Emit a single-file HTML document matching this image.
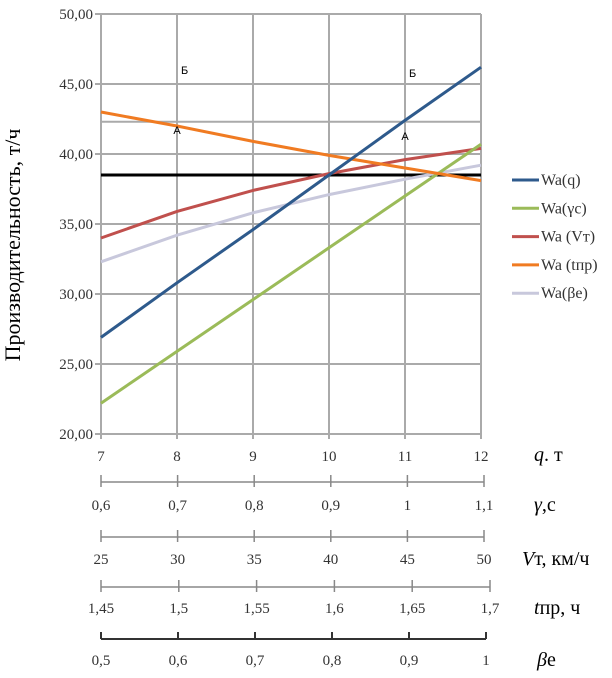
<!DOCTYPE html>
<html><head><meta charset="utf-8"><style>
body{margin:0;background:#fff;}
svg{display:block;font-family:"Liberation Serif",serif;}
</style></head><body>
<svg id="c" width="612" height="678"></svg>
<script>
const xCats=[7,8,9,10,11,12];
const yTicks=[20,25,30,35,40,45,50];
const seriesNames=["Wa(q)","Wa(γc)","Wa (Vт)","Wa (tпр)","Wa(βe)"];
const wq=[26.9,30.8,34.6,38.5,42.4,46.2];
const wgc=[22.2,25.9,29.6,33.3,37.0,40.7];
const wvt=[34.0,35.9,37.4,38.6,39.6,40.4];
const wtpr=[43.0,42.0,40.9,39.9,39.0,38.1];
const wbe=[32.3,34.2,35.8,37.1,38.2,39.2];
const refLevel=38.5;
const extraGrid=42.3;
const gammaTicks=["0,6","0,7","0,8","0,9","1","1,1"];
const vtTicks=["25","30","35","40","45","50"];
const tprTicks=["1,45","1,5","1,55","1,6","1,65","1,7"];
const beTicks=["0,5","0,6","0,7","0,8","0,9","1"];
const colors=["#2e5a8c","#9bbb59","#c0504d","#f07b22","#c8c8dc"];
const NS="http://www.w3.org/2000/svg";
const svg=document.getElementById('c');
const X=v=>101+(v-7)*76;
const Y=v=>14+(50-v)*14;
function mk(t,a,p){const e=document.createElementNS(NS,t);for(const k in a)e.setAttribute(k,a[k]);(p||svg).appendChild(e);return e;}
function txt(x,y,s,a,p){const e=mk('text',Object.assign({x:x,y:y},a),p);e.textContent=s;return e;}
yTicks.forEach(v=>{
 const l=mk('line',{x1:95,x2:481,y1:Y(v),y2:Y(v),stroke:'#aaa','stroke-width':2});
 
 
 const t=txt(93,Y(v)+5,v.toFixed(2).replace('.',','),{'text-anchor':'end','font-size':15,fill:'#333'});
 
 
});
{const l=mk('line',{x1:101,x2:481,y1:Y(extraGrid),y2:Y(extraGrid),stroke:'#aaa','stroke-width':2});

}
xCats.forEach(v=>{
 const l=mk('line',{x1:X(v),x2:X(v),y1:Y(50),y2:Y(20)+5,stroke:'#aaa','stroke-width':2});
 
 
 const t=txt(X(v),461,String(v),{'text-anchor':'middle','font-size':15,fill:'#333'});
 
 
});
{const l=mk('line',{x1:101,x2:481,y1:Y(refLevel),y2:Y(refLevel),stroke:'#000','stroke-width':3});

}
const all=[wq,wgc,wvt,wtpr,wbe];
const order=[4,2,1,3,0];
order.forEach(i=>{
 const p=mk('polyline',{points:all[i].map((v,j)=>X(xCats[j])+','+Y(v)).join(' '),fill:'none',stroke:colors[i],'stroke-width':3});
 
 
});
[[8.1,46,'Б'],[11.1,45.8,'Б'],[8,41.7,'А'],[11,41.3,'А']].forEach(a=>{
 const t=txt(X(a[0]),Y(a[1])+4,a[2],{'font-size':11,'text-anchor':'middle','font-family':'Liberation Sans,sans-serif'});
 
 
});
seriesNames.forEach((n,i)=>{
 const y=180+i*28.3;
 const g=mk('g',{});
 
 
 mk('line',{x1:512,x2:539,y1:y,y2:y,stroke:colors[i],'stroke-width':3},g);
 txt(541,y+5,n,{'font-size':16,fill:'#333'},g);
});
{const t=txt(0,0,'Производительность, т/ч',{transform:'translate(20,245) rotate(-90)','text-anchor':'middle','font-size':22});

}
function title(x,y,it,rest,name){
 const t=mk('text',{x:x,y:y,'font-size':20});
 
 
 const a=mk('tspan',{'font-style':'italic'},t);a.textContent=it;
 const b=mk('tspan',{},t);b.textContent=rest;
}
const axes=[[482,505,gammaTicks,'#888',1.5,484,'γ',',с',534,'gamma-axis-title'],[537,559,vtTicks,'#888',1.5,484,'V','т, км/ч',522,'vt-axis-title'],[587,608,tprTicks,'#888',1.5,490,'t','пр, ч',534,'tpr-axis-title'],[639,660,beTicks,'#333',2,486,'β','e',537,'be-axis-title']];
axes.forEach(a=>{
 const g=mk('g',{});
 
 
 mk('line',{x1:101,x2:a[5],y1:a[0],y2:a[0],stroke:a[3],'stroke-width':a[4]},g);
 a[2].forEach((s,j)=>{
  const x=101+j*(a[5]-101)/5;
  mk('line',{x1:x,x2:x,y1:a[0]-7,y2:a[0]+(a[4]>1.5?0:5),stroke:a[3],'stroke-width':a[4]},g);
  txt(x,a[1]+5,s,{'text-anchor':'middle','font-size':15,fill:'#333'},g);
 });
 title(a[8],a[1]+6,a[6],a[7],a[9]);
});
title(534,461,'q','. т','q-axis-title');
</script>
</body></html>
